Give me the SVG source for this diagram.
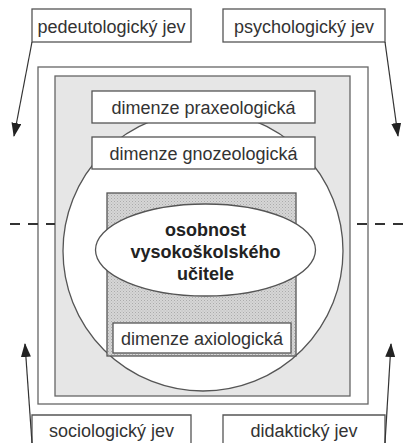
<svg xmlns="http://www.w3.org/2000/svg" width="403" height="443" viewBox="0 0 403 443">
<defs>
<pattern id="dots" width="3" height="3" patternUnits="userSpaceOnUse">
<rect width="3" height="3" fill="#d6d6d6"/>
<rect width="1" height="1" fill="#ababab"/>
<rect x="1.5" y="1.5" width="1" height="1" fill="#b8b8b8"/>
</pattern>
<marker id="ah" viewBox="0 0 14 10" refX="13" refY="5" markerWidth="14" markerHeight="10" markerUnits="userSpaceOnUse" orient="auto">
<path d="M0,0 L14,5 L0,10 Z" fill="#222"/>
</marker>
<style>
.box{fill:#fff;stroke:#555;stroke-width:1.3}
.frame{fill:none;stroke:#666;stroke-width:1.3}
.lbl{font-family:"Liberation Sans",Arial,sans-serif;font-size:18px;fill:#333;text-anchor:middle}
.big{font-family:"Liberation Sans",Arial,sans-serif;font-size:18px;font-weight:bold;fill:#222;text-anchor:middle}
.conn{stroke:#333;stroke-width:1.2;fill:none}
.dash{stroke:#333;stroke-width:1.8;stroke-dasharray:10,8;fill:none}
</style>
</defs>
<rect width="403" height="443" fill="#fff"/>
<g id="outer-frame"><rect class="frame" x="38" y="67" width="330" height="337"/></g>
<g id="gray-area"><rect x="55" y="76" width="295" height="320" fill="#e6e6e6" stroke="#666" stroke-width="1.3"/></g>
<g id="circle"><circle cx="203" cy="251" r="140" fill="#fff" stroke="#555" stroke-width="1.3"/></g>
<g id="hatched"><rect x="107" y="193" width="189" height="163" fill="url(#dots)" stroke="#555" stroke-width="1.3"/></g>
<g id="axiologicka"><rect class="box" x="113" y="323" width="178" height="30"/><text class="lbl" x="202" y="345">dimenze axiologická</text></g>
<g id="praxeologicka"><rect class="box" x="92" y="91" width="223" height="32"/><text class="lbl" x="203.5" y="114">dimenze praxeologická</text></g>
<g id="gnozeologicka"><rect class="box" x="92" y="137" width="223" height="32"/><text class="lbl" x="203.5" y="160">dimenze gnozeologická</text></g>
<g id="osobnost"><ellipse cx="205.5" cy="250" rx="110" ry="46" fill="#fff" stroke="#555" stroke-width="1.3"/>
<text class="big" x="205.5" y="236">osobnost</text>
<text class="big" x="205.5" y="258">vysokoškolského</text>
<text class="big" x="205.5" y="280">učitele</text></g>
<g id="pedeutologicky"><rect class="box" x="32" y="9" width="159" height="33"/><text class="lbl" x="111.5" y="33">pedeutologický jev</text></g>
<g id="psychologicky"><rect class="box" x="223" y="9" width="162" height="33"/><text class="lbl" x="304" y="33">psychologický jev</text></g>
<g id="sociologicky"><path class="box" d="M32,443 V415 H191 V443"/><text class="lbl" x="111.5" y="437">sociologický jev</text></g>
<g id="didakticky"><path class="box" d="M223,443 V415 H385 V443"/><text class="lbl" x="304" y="437">didaktický jev</text></g>
<g id="connectors">
<line class="conn" x1="32" y1="42" x2="14" y2="136" marker-end="url(#ah)"/>
<line class="conn" x1="385" y1="42" x2="398" y2="136" marker-end="url(#ah)"/>
<line class="conn" x1="32" y1="443" x2="25" y2="344" marker-end="url(#ah)"/>
<line class="conn" x1="385" y1="443" x2="391" y2="344" marker-end="url(#ah)"/>
<line class="dash" x1="10" y1="224" x2="55" y2="224"/>
<line class="dash" x1="357" y1="224" x2="403" y2="224"/>
</g>
</svg>
